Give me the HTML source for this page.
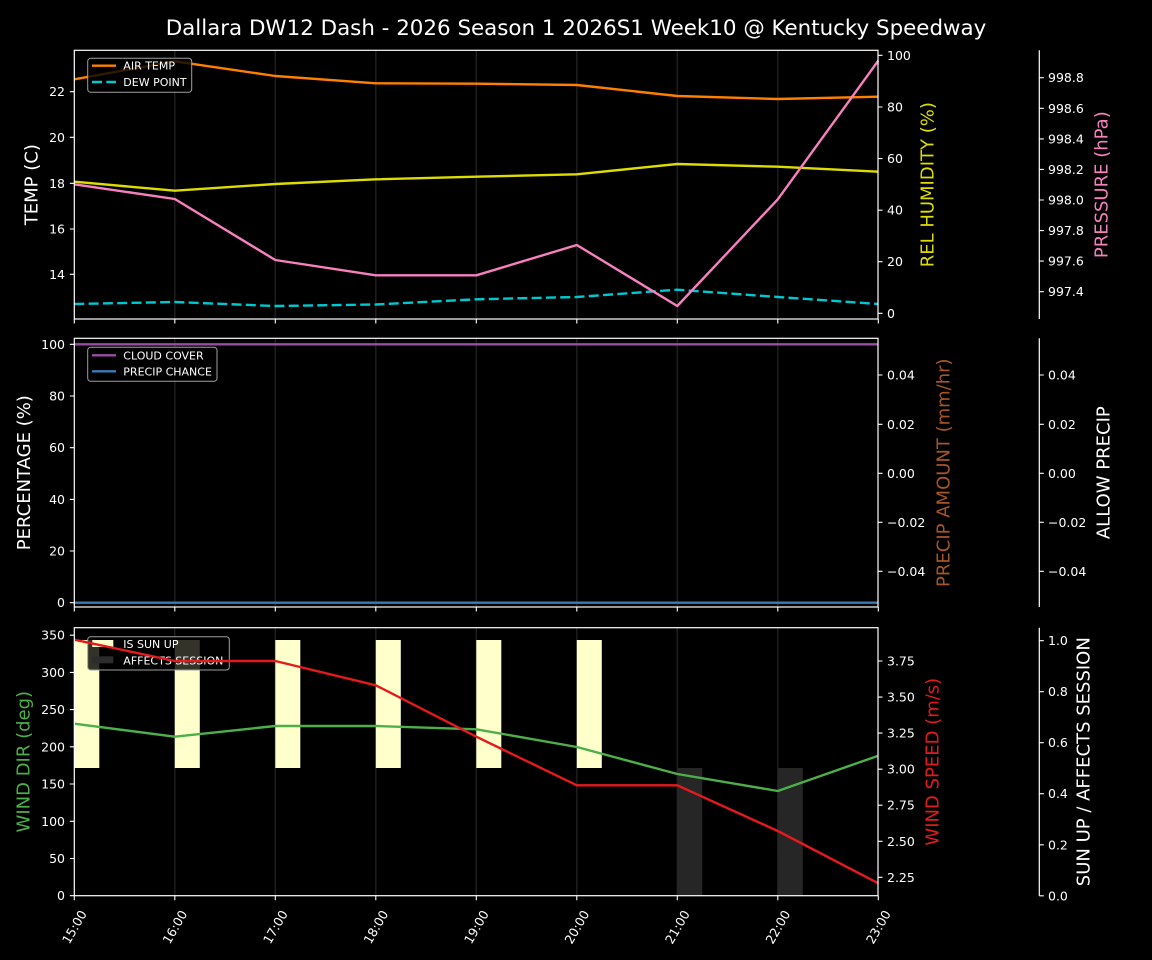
<!DOCTYPE html>
<html><head><meta charset="utf-8"><style>
html,body{margin:0;padding:0;background:#000;}
svg{display:block;}
text{font-family:"DejaVu Sans","Liberation Sans",sans-serif;}
</style></head><body>
<svg width="1152" height="960" viewBox="0 0 1152 960" xmlns="http://www.w3.org/2000/svg">
<rect width="1152" height="960" fill="#000"/>
<text x="576" y="35" font-size="21.4" fill="#fff" text-anchor="middle">Dallara DW12 Dash - 2026 Season 1 2026S1 Week10 @ Kentucky Speedway</text>

<!-- gridlines -->
<g stroke="#1e1e1e" stroke-width="1.5">
<line x1="174.8" y1="50.3" x2="174.8" y2="319"/><line x1="275.3" y1="50.3" x2="275.3" y2="319"/><line x1="375.8" y1="50.3" x2="375.8" y2="319"/><line x1="476.3" y1="50.3" x2="476.3" y2="319"/><line x1="576.8" y1="50.3" x2="576.8" y2="319"/><line x1="677.3" y1="50.3" x2="677.3" y2="319"/><line x1="777.8" y1="50.3" x2="777.8" y2="319"/>
<line x1="174.8" y1="338.3" x2="174.8" y2="607"/><line x1="275.3" y1="338.3" x2="275.3" y2="607"/><line x1="375.8" y1="338.3" x2="375.8" y2="607"/><line x1="476.3" y1="338.3" x2="476.3" y2="607"/><line x1="576.8" y1="338.3" x2="576.8" y2="607"/><line x1="677.3" y1="338.3" x2="677.3" y2="607"/><line x1="777.8" y1="338.3" x2="777.8" y2="607"/>
<line x1="174.8" y1="627.7" x2="174.8" y2="895.7"/><line x1="275.3" y1="627.7" x2="275.3" y2="895.7"/><line x1="375.8" y1="627.7" x2="375.8" y2="895.7"/><line x1="476.3" y1="627.7" x2="476.3" y2="895.7"/><line x1="576.8" y1="627.7" x2="576.8" y2="895.7"/><line x1="677.3" y1="627.7" x2="677.3" y2="895.7"/><line x1="777.8" y1="627.7" x2="777.8" y2="895.7"/>
</g>

<!-- ===== Panel 1 ===== -->
<g fill="none" stroke-width="2.4" stroke-linejoin="round">
<polyline stroke="#ff7f00" points="74.3,79.3 174.8,61.3 275.3,76 375.8,83.3 476.3,83.7 576.8,85 677.3,96 777.8,99 878.3,96.7"/>
<polyline stroke="#00c8d0" stroke-dasharray="10,4.3" points="74.3,304 174.8,302 275.3,306 375.8,304.5 476.3,299.3 576.8,297 677.3,289.7 777.8,297 878.3,304"/>
</g>
<rect x="87.7" y="58.3" width="104" height="34" rx="3" fill="#000" fill-opacity="0.8" stroke="#a0a0a0" stroke-width="1"/>
<line x1="92" y1="65.7" x2="116" y2="65.7" stroke="#ff7f00" stroke-width="2.4"/>
<line x1="92" y1="82" x2="116" y2="82" stroke="#00c8d0" stroke-width="2.4" stroke-dasharray="10,4.3"/>
<text x="123.3" y="69.7" font-size="11" fill="#fff">AIR TEMP</text>
<text x="123.3" y="86" font-size="11" fill="#fff">DEW POINT</text>
<g fill="none" stroke-width="2.4" stroke-linejoin="round">
<polyline stroke="#dddd00" points="74.3,181.7 174.8,190.7 275.3,184 375.8,179.3 476.3,176.7 576.8,174.3 677.3,164 777.8,166.7 878.3,171.7"/>
<polyline stroke="#f781bf" points="74.3,184.3 174.8,199 275.3,260 375.8,275.3 476.3,275.3 576.8,245 677.3,306 777.8,199.3 878.3,60.7"/>
</g>

<!-- ===== Panel 2 ===== -->
<line x1="74.3" y1="344.3" x2="878.3" y2="344.3" stroke="#984ea3" stroke-width="2.4"/>
<line x1="74.3" y1="602.7" x2="878.3" y2="602.7" stroke="#377eb8" stroke-width="2.4"/>
<rect x="87.7" y="347.3" width="129.3" height="34" rx="3" fill="#000" fill-opacity="0.8" stroke="#a0a0a0" stroke-width="1"/>
<line x1="92" y1="355.3" x2="116" y2="355.3" stroke="#984ea3" stroke-width="2.4"/>
<line x1="92" y1="371.3" x2="116" y2="371.3" stroke="#377eb8" stroke-width="2.4"/>
<text x="123.3" y="359.3" font-size="11" fill="#fff">CLOUD COVER</text>
<text x="123.3" y="375.3" font-size="11" fill="#fff">PRECIP CHANCE</text>

<!-- ===== Panel 3 ===== -->
<g fill="#ffffcc">
<rect x="74.3" y="640" width="25" height="128"/><rect x="174.8" y="640" width="25" height="128"/><rect x="275.3" y="640" width="25" height="128"/><rect x="375.8" y="640" width="25" height="128"/><rect x="476.3" y="640" width="25" height="128"/><rect x="576.8" y="640" width="25" height="128"/>
</g>
<g fill="#262626">
<rect x="677.3" y="768" width="25" height="128"/><rect x="777.8" y="768" width="25" height="128"/>
</g>
<polyline fill="none" stroke="#4daf4a" stroke-width="2.4" stroke-linejoin="round" points="74.3,723.7 174.8,736.7 275.3,726 375.8,726 476.3,729.3 576.8,747 677.3,774 777.8,791 878.3,755.7"/>
<rect x="87.7" y="636.7" width="141.6" height="33.3" rx="3" fill="#000" fill-opacity="0.8" stroke="#a0a0a0" stroke-width="1"/>
<rect x="92.3" y="640" width="21" height="7" fill="#ffffcc"/>
<rect x="92.3" y="656.3" width="21" height="7" fill="#2c2c2c"/>
<text x="123.3" y="648" font-size="11" fill="#fff">IS SUN UP</text>
<text x="123.3" y="664.3" font-size="11" fill="#fff">AFFECTS SESSION</text>
<polyline fill="none" stroke="#e41a1c" stroke-width="2.4" stroke-linejoin="round" points="74.3,639.7 174.8,661 275.3,661 375.8,685.3 476.3,736.7 576.8,785.3 677.3,785.3 777.8,831 878.3,883.3"/>

<!-- spines -->
<g fill="none" stroke="#fff" stroke-width="1.2">
<rect x="74.3" y="50.3" width="803.7" height="268.7"/>
<rect x="74.3" y="338.3" width="803.7" height="268.7"/>
<rect x="74.3" y="627.7" width="803.7" height="268"/>
<line x1="1039.3" y1="50.3" x2="1039.3" y2="319"/>
<line x1="1039.3" y1="338.3" x2="1039.3" y2="607"/>
<line x1="1039.3" y1="627.7" x2="1039.3" y2="895.7"/>
</g>

<!-- ticks -->
<g stroke="#fff" stroke-width="1.1">
<!-- x ticks -->
<path d="M74.3 319v4.5M174.8 319v4.5M275.3 319v4.5M375.8 319v4.5M476.3 319v4.5M576.8 319v4.5M677.3 319v4.5M777.8 319v4.5M878.3 319v4.5"/>
<path d="M74.3 607v4.5M174.8 607v4.5M275.3 607v4.5M375.8 607v4.5M476.3 607v4.5M576.8 607v4.5M677.3 607v4.5M777.8 607v4.5M878.3 607v4.5"/>
<path d="M74.3 895.7v4.5M174.8 895.7v4.5M275.3 895.7v4.5M375.8 895.7v4.5M476.3 895.7v4.5M576.8 895.7v4.5M677.3 895.7v4.5M777.8 895.7v4.5M878.3 895.7v4.5"/>
<!-- panel1 y ticks -->
<path d="M74.3 91.7h-4.5M74.3 137.3h-4.5M74.3 183.3h-4.5M74.3 229h-4.5M74.3 274.3h-4.5"/>
<path d="M878 55.3h4.5M878 107h4.5M878 158.6h4.5M878 210.2h4.5M878 261.7h4.5M878 313.3h4.5"/>
<path d="M1039.3 77.7h4.5M1039.3 108.3h4.5M1039.3 138.9h4.5M1039.3 169.4h4.5M1039.3 200h4.5M1039.3 230.6h4.5M1039.3 261.1h4.5M1039.3 291.7h4.5"/>
<!-- panel2 -->
<path d="M74.3 344.3h-4.5M74.3 396h-4.5M74.3 447.7h-4.5M74.3 499.4h-4.5M74.3 551h-4.5M74.3 602.7h-4.5"/>
<path d="M878 375h4.5M878 424.3h4.5M878 473.3h4.5M878 522.3h4.5M878 571.3h4.5"/>
<path d="M1039.3 375h4.5M1039.3 424.3h4.5M1039.3 473.3h4.5M1039.3 522.3h4.5M1039.3 571.3h4.5"/>
<!-- panel3 -->
<path d="M74.3 895.7h-4.5M74.3 858.5h-4.5M74.3 821.3h-4.5M74.3 784h-4.5M74.3 746.8h-4.5M74.3 709.6h-4.5M74.3 672.4h-4.5M74.3 635.2h-4.5"/>
<path d="M878 661h4.5M878 697.1h4.5M878 733.1h4.5M878 769.2h4.5M878 805.2h4.5M878 841.3h4.5M878 877.3h4.5"/>
<path d="M1039.3 640.7h4.5M1039.3 691.7h4.5M1039.3 742.7h4.5M1039.3 793.7h4.5M1039.3 844.8h4.5M1039.3 895.8h4.5"/>
</g>

<!-- tick labels -->
<g font-size="12.5" fill="#fff">
<g text-anchor="end">
<text x="65" y="96.2">22</text><text x="65" y="141.8">20</text><text x="65" y="187.8">18</text><text x="65" y="233.5">16</text><text x="65" y="278.8">14</text>
<text x="65" y="348.8">100</text><text x="65" y="400.5">80</text><text x="65" y="452.2">60</text><text x="65" y="503.9">40</text><text x="65" y="555.5">20</text><text x="65" y="607.2">0</text>
<text x="65" y="900.2">0</text><text x="65" y="863">50</text><text x="65" y="825.8">100</text><text x="65" y="788.5">150</text><text x="65" y="751.3">200</text><text x="65" y="714.1">250</text><text x="65" y="676.9">300</text><text x="65" y="639.7">350</text>
</g>
<text x="887" y="59.8">100</text><text x="887" y="111.5">80</text><text x="887" y="163.1">60</text><text x="887" y="214.7">40</text><text x="887" y="266.2">20</text><text x="887" y="317.8">0</text>
<text x="1048" y="82.2">998.8</text><text x="1048" y="112.8">998.6</text><text x="1048" y="143.4">998.4</text><text x="1048" y="173.9">998.2</text><text x="1048" y="204.5">998.0</text><text x="1048" y="235.1">997.8</text><text x="1048" y="265.6">997.6</text><text x="1048" y="296.2">997.4</text>
<text x="887" y="379.5">0.04</text><text x="887" y="428.8">0.02</text><text x="887" y="477.8">0.00</text><text x="887" y="526.8">−0.02</text><text x="887" y="575.8">−0.04</text>
<text x="1048" y="379.5">0.04</text><text x="1048" y="428.8">0.02</text><text x="1048" y="477.8">0.00</text><text x="1048" y="526.8">−0.02</text><text x="1048" y="575.8">−0.04</text>
<text x="887" y="665.5">3.75</text><text x="887" y="701.6">3.50</text><text x="887" y="737.6">3.25</text><text x="887" y="773.7">3.00</text><text x="887" y="809.7">2.75</text><text x="887" y="845.8">2.50</text><text x="887" y="881.8">2.25</text>
<text x="1048" y="645.2">1.0</text><text x="1048" y="696.2">0.8</text><text x="1048" y="747.2">0.6</text><text x="1048" y="798.2">0.4</text><text x="1048" y="849.3">0.2</text><text x="1048" y="900.3">0.0</text>
<!-- x labels rotated -->
<g text-anchor="middle" dominant-baseline="central">
<text transform="translate(74.3,927) rotate(-60)">15:00</text>
<text transform="translate(174.8,927) rotate(-60)">16:00</text>
<text transform="translate(275.3,927) rotate(-60)">17:00</text>
<text transform="translate(375.8,927) rotate(-60)">18:00</text>
<text transform="translate(476.3,927) rotate(-60)">19:00</text>
<text transform="translate(576.8,927) rotate(-60)">20:00</text>
<text transform="translate(677.3,927) rotate(-60)">21:00</text>
<text transform="translate(777.8,927) rotate(-60)">22:00</text>
<text transform="translate(878.3,927) rotate(-60)">23:00</text>
</g>
</g>

<!-- axis labels -->
<g font-size="18" text-anchor="middle">
<text transform="translate(37.7,184.7) rotate(-90)" fill="#fff">TEMP (C)</text>
<text transform="translate(933.3,184.7) rotate(-90)" fill="#dddd00">REL HUMIDITY (%)</text>
<text transform="translate(1107.7,184.7) rotate(-90)" fill="#f781bf">PRESSURE (hPa)</text>
<text transform="translate(30,472.7) rotate(-90)" fill="#fff">PERCENTAGE (%)</text>
<text transform="translate(949.3,472.7) rotate(-90)" fill="#a65628">PRECIP AMOUNT (mm/hr)</text>
<text transform="translate(1109.3,472.7) rotate(-90)" fill="#fff">ALLOW PRECIP</text>
<text transform="translate(29.3,761.7) rotate(-90)" fill="#4daf4a">WIND DIR (deg)</text>
<text transform="translate(938.3,761.7) rotate(-90)" fill="#e41a1c">WIND SPEED (m/s)</text>
<text transform="translate(1089.3,761.7) rotate(-90)" fill="#fff">SUN UP / AFFECTS SESSION</text>
</g>
</svg>
</body></html>
